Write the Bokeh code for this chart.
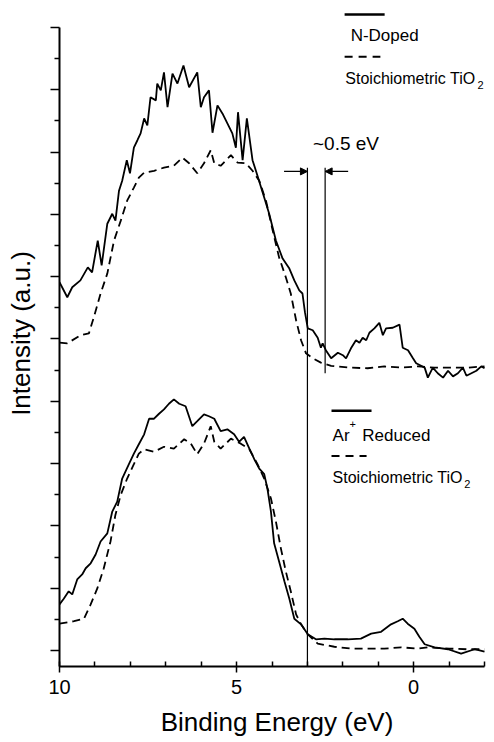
from bokeh.plotting import figure
from bokeh.models import Range1d, FixedTicker, Label, Arrow, NormalHead, CustomJSTickFormatter
from bokeh.embed import file_html
from bokeh.resources import INLINE

FONT = "Liberation Sans"

# ---------------- data (binding energy eV, intensity a.u.) ----------------
n_doped_e = [10.00, 9.78, 9.64, 9.41, 9.20, 9.08, 8.92, 8.81, 8.65, 8.51, 8.42, 8.32, 8.23, 8.10, 8.01,
             7.90, 7.80, 7.71, 7.61, 7.52, 7.43, 7.28, 7.24, 7.14, 7.05, 6.95, 6.81, 6.67, 6.50, 6.34,
             6.11, 6.01, 5.92, 5.78, 5.68, 5.54, 5.40, 5.26, 5.12, 5.02, 4.96, 4.83, 4.71, 4.55, 4.41,
             4.22, 4.08, 3.89, 3.70, 3.51, 3.37, 3.23, 3.14, 3.07, 2.99, 2.85, 2.71, 2.62, 2.57, 2.48,
             2.33, 2.14, 2.00, 1.91, 1.77, 1.63, 1.53, 1.44, 1.34, 1.25, 1.11, 0.97, 0.87, 0.78, 0.59,
             0.40, 0.31, 0.16, 0.02, -0.07, -0.21, -0.31, -0.40, -0.54, -0.68, -0.83, -0.97, -1.11,
             -1.25, -1.39, -1.49, -1.63, -1.77, -1.91, -2.00]
n_doped_i = [5.91, 5.67, 5.83, 5.94, 6.15, 6.07, 6.58, 6.18, 6.85, 7.01, 6.90, 7.38, 7.54, 7.87, 7.66,
             8.07, 8.19, 8.30, 8.54, 8.43, 8.88, 8.83, 9.10, 8.99, 9.28, 8.72, 9.26, 9.10, 9.39, 9.04,
             9.28, 8.72, 8.88, 8.99, 8.31, 8.75, 8.62, 8.46, 8.30, 8.07, 8.64, 7.87, 8.54, 7.87, 7.62,
             7.27, 7.01, 6.58, 6.29, 6.13, 5.94, 5.78, 5.73, 5.43, 5.17, 5.14, 5.02, 4.86, 4.93, 4.82,
             4.69, 4.78, 4.74, 4.69, 4.85, 4.98, 4.94, 5.02, 4.98, 5.10, 5.17, 5.26, 5.06, 5.17, 5.18,
             5.23, 4.86, 4.82, 4.69, 4.61, 4.57, 4.54, 4.38, 4.54, 4.45, 4.38, 4.49, 4.40,
             4.45, 4.54, 4.41, 4.45, 4.49, 4.56, 4.53]

stoich_top_e = [10.00, 9.78, 9.41, 9.17, 9.03, 8.84, 8.65, 8.46, 8.27, 8.09, 7.90, 7.76, 7.61, 7.33, 7.05,
                6.77, 6.53, 6.34, 6.11, 5.92, 5.73, 5.63, 5.45, 5.16, 4.97, 4.74, 4.55, 4.36, 4.17, 3.98,
                3.80, 3.61, 3.47, 3.32, 3.18, 3.04, 2.85, 2.62, 2.33, 1.77, 1.30, 0.83, 0.35, -0.12,
                -0.59, -1.06, -1.53, -2.00]
stoich_top_i = [4.94, 4.93, 5.06, 5.09, 5.35, 5.73, 6.05, 6.58, 6.90, 7.22, 7.43, 7.59, 7.67, 7.70, 7.75,
                7.78, 7.91, 7.82, 7.66, 7.82, 8.03, 7.82, 7.78, 7.95, 7.83, 7.82, 7.70, 7.54, 7.22, 6.74,
                6.31, 5.99, 5.73, 5.30, 4.98, 4.77, 4.69, 4.62, 4.57, 4.54, 4.53, 4.56, 4.54, 4.56,
                4.54, 4.54, 4.54, 4.56]

ar_red_e = [10.00, 9.88, 9.74, 9.64, 9.50, 9.36, 9.26, 9.12, 8.98, 8.84, 8.65, 8.51, 8.37, 8.23, 8.04,
            7.90, 7.76, 7.61, 7.47, 7.33, 7.19, 7.05, 6.91, 6.77, 6.62, 6.44, 6.25, 6.11, 5.92, 5.78,
            5.63, 5.45, 5.26, 5.07, 4.93, 4.79, 4.64, 4.50, 4.36, 4.22, 4.13, 4.03, 3.94, 3.80, 3.65,
            3.51, 3.37, 3.18, 2.99, 2.76, 2.52, 2.24, 1.86, 1.49, 1.20, 0.92, 0.64, 0.45, 0.31, 0.17,
            -0.02, -0.16, -0.31, -0.59, -0.97, -1.34, -1.72, -2.00]
ar_red_i = [0.74, 0.83, 0.95, 0.90, 1.14, 1.22, 1.32, 1.40, 1.54, 1.75, 1.88, 2.23, 2.39, 2.76, 2.99,
            3.16, 3.31, 3.47, 3.72, 3.72, 3.80, 3.87, 3.96, 4.03, 3.96, 3.92, 3.60, 3.68, 3.79, 3.76,
            3.72, 3.52, 3.55, 3.47, 3.35, 3.43, 3.24, 3.07, 2.92, 2.83, 2.60, 2.23, 1.72, 1.43, 1.11,
            0.83, 0.51, 0.42, 0.26, 0.18, 0.19, 0.18, 0.18, 0.19, 0.27, 0.30, 0.42, 0.47, 0.51, 0.43,
            0.35, 0.22, 0.10, 0.05, 0.02, -0.05, 0.02, -0.02]

stoich_bot_e = [10.00, 9.59, 9.31, 9.12, 8.93, 8.75, 8.56, 8.42, 8.27, 8.09, 7.90, 7.76, 7.61, 7.33, 7.05,
                6.77, 6.48, 6.29, 6.11, 5.92, 5.73, 5.63, 5.45, 5.16, 4.88, 4.64, 4.41, 4.22, 4.03, 3.89,
                3.75, 3.61, 3.47, 3.32, 3.18, 2.99, 2.71, 2.24, 1.77, 1.30, 0.83, 0.35, -0.12, -0.40,
                -1.00, -1.50, -2.00]
stoich_bot_i = [0.43, 0.47, 0.51, 0.74, 1.00, 1.32, 1.75, 2.18, 2.50, 2.76, 2.99, 3.16, 3.23, 3.19, 3.27,
                3.24, 3.39, 3.32, 3.15, 3.32, 3.60, 3.35, 3.24, 3.40, 3.32, 3.23, 2.99, 2.76, 2.44, 2.07,
                1.64, 1.27, 0.95, 0.58, 0.42, 0.26, 0.11, 0.06, 0.03, 0.03, 0.03, 0.05, 0.03, 0.05,
                0.03, 0.02, 0.02]

x_major_ticks = [10, 5, 0]
x_minor_ticks = [9, 8, 7, 6, 4, 3, 2, 1, -1, -2]
y_major_ticks = [0, 1, 2, 3, 4, 5, 6, 7, 8, 9, 10]
y_minor_ticks = [0.5, 1.5, 2.5, 3.5, 4.5, 5.5, 6.5, 7.5, 8.5, 9.5]
x_title = "Binding Energy (eV)"
y_title = "Intensity (a.u.)"

# annotation geometry (data units)
edge_lines_e = [3.0, 2.5]
edge_top = 7.75
edge_bottoms = [-0.257, 4.45]
arrow_y = 7.69
arrow_left_start = 3.66
arrow_right_start = 1.85
shift_label = "~0.5 eV"

# ---------------- figure ----------------
p = figure(width=494, height=742, output_backend="svg", toolbar_location=None,
           x_range=Range1d(10, -2.282), y_range=Range1d(-0.257, 10.433),
           min_border_left=59, min_border_right=0, min_border_top=0, min_border_bottom=76)
p.xgrid.grid_line_color = None
p.ygrid.grid_line_color = None
p.outline_line_color = None
p.background_fill_color = "white"
p.border_fill_color = "white"

# x axis
xa = p.xaxis[0]
xa.ticker = FixedTicker(ticks=x_major_ticks, minor_ticks=x_minor_ticks)
xa.bounds = (-2, 10)
xa.axis_label = x_title
xa.axis_label_text_font = FONT
xa.axis_label_text_font_size = "26px"
xa.axis_label_text_font_style = "normal"
xa.axis_label_text_color = "black"
xa.axis_label_standoff = 10
xa.major_label_text_font = FONT
xa.major_label_text_font_size = "20px"
xa.major_label_text_color = "black"
xa.major_label_standoff = 7
xa.axis_line_width = 2
xa.axis_line_color = "black"
xa.major_tick_line_width = 1.5
xa.minor_tick_line_width = 1.5
xa.major_tick_in = 5
xa.major_tick_out = 6
xa.minor_tick_in = 5
xa.minor_tick_out = 0

# y axis
ya = p.yaxis[0]
ya.ticker = FixedTicker(ticks=y_major_ticks, minor_ticks=y_minor_ticks)
ya.bounds = (-0.257, 10)
ya.formatter = CustomJSTickFormatter(code="return '';")
ya.axis_label = y_title
ya.axis_label_text_font = FONT
ya.axis_label_text_font_size = "26px"
ya.axis_label_text_font_style = "normal"
ya.axis_label_text_color = "black"
ya.axis_label_standoff = 15
ya.major_label_standoff = 0
ya.axis_line_width = 2
ya.axis_line_color = "black"
ya.major_tick_line_width = 1.5
ya.minor_tick_line_width = 1.5
ya.major_tick_in = 0
ya.major_tick_out = 9
ya.minor_tick_in = 0
ya.minor_tick_out = 5

# spectra
p.line(n_doped_e, n_doped_i, line_color="black", line_width=1.8)
p.line(stoich_top_e, stoich_top_i, line_color="black", line_width=1.8, line_dash="8 5")
p.line(ar_red_e, ar_red_i, line_color="black", line_width=1.8)
p.line(stoich_bot_e, stoich_bot_i, line_color="black", line_width=1.8, line_dash="8 5")

# band edge lines and arrows
p.segment(x0=edge_lines_e, y0=[edge_top, edge_top], x1=edge_lines_e, y1=edge_bottoms,
          line_color="black", line_width=1.2)
p.add_layout(Arrow(end=NormalHead(size=7, fill_color="black", line_color="black"),
                   x_start=arrow_left_start, y_start=arrow_y, x_end=edge_lines_e[0], y_end=arrow_y,
                   line_color="black", line_width=1.2))
p.add_layout(Arrow(end=NormalHead(size=7, fill_color="black", line_color="black"),
                   x_start=arrow_right_start, y_start=arrow_y, x_end=edge_lines_e[1], y_end=arrow_y,
                   line_color="black", line_width=1.2))
p.add_layout(Label(x=1.91, y=8.14, text=shift_label, text_align="center", text_baseline="middle",
                   text_font=FONT, text_font_size="19px", text_color="black"))

# legends (drawn manually)
def lbl(x, y, t, size="16px", align="left"):
    p.add_layout(Label(x=x, y=y, text=t, text_align=align, text_baseline="middle",
                       text_font=FONT, text_font_size=size, text_color="black"))

p.segment(x0=[1.95], y0=[10.21], x1=[0.82], y1=[10.21], line_color="black", line_width=2.5)
lbl(1.78, 9.87, "N-Doped", size="17px")
p.segment(x0=[1.95], y0=[9.53], x1=[0.94], y1=[9.53], line_color="black", line_width=2, line_dash="8 6")
lbl(1.93, 9.18, "Stoichiometric TiO")
lbl(-1.80, 9.08, "2", size="11px")

p.segment(x0=[2.32], y0=[3.85], x1=[1.19], y1=[3.85], line_color="black", line_width=2.5)
lbl(2.29, 3.45, "Ar", size="17px")
lbl(1.81, 3.63, "+", size="11px")
lbl(1.45, 3.45, "Reduced", size="17px")
p.segment(x0=[2.32], y0=[3.12], x1=[1.33], y1=[3.12], line_color="black", line_width=2, line_dash="8 6")
lbl(2.29, 2.77, "Stoichiometric TiO")
lbl(-1.43, 2.67, "2", size="11px")

open("out.html", "w").write(file_html(p, INLINE))
